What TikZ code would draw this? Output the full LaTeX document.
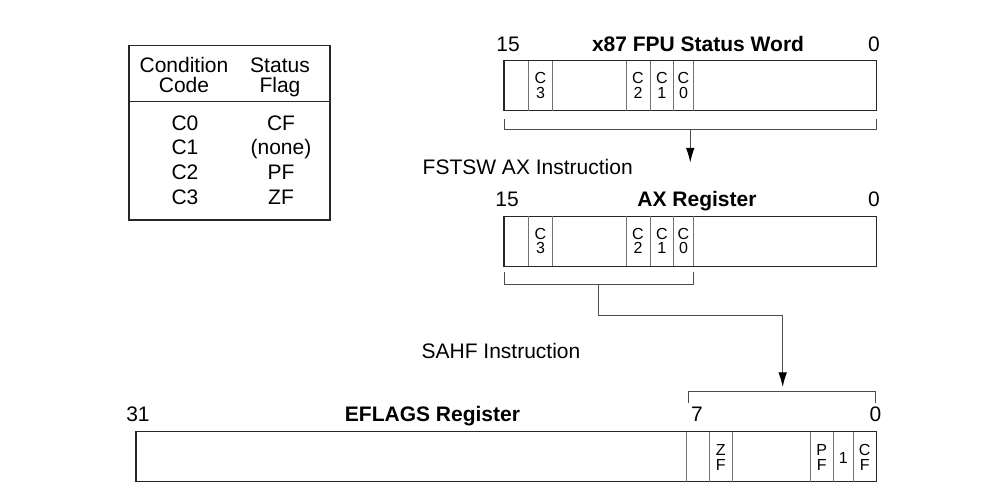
\documentclass[tikz,border=0pt]{standalone}
\usepackage{fontspec}
\setmainfont{Liberation Sans}
\usetikzlibrary{arrows.meta}
\begin{document}
\begin{tikzpicture}[x=0.75pt,y=-0.75pt,
  lbl/.style={font=\fontsize{15.75}{18}\selectfont, anchor=base, inner sep=0},
  ttl/.style={font=\fontsize{15.75}{18}\selectfont\bfseries, anchor=base, inner sep=0},
  cell/.style={font=\fontsize{12}{12}\selectfont, anchor=base, inner sep=0},
  box/.style={draw=black!85, line width=0.9pt, inner sep=0, fill=none},
  divider/.style={draw=black!55, line width=0.75pt},
  brk/.style={draw=black!70, line width=0.75pt},
  conn/.style={draw=black!70, line width=0.75pt, -{Latex[length=11pt,width=6.5pt,color=black]}},
  ]
\useasboundingbox (0,0) rectangle (1003,499);

% ---- Condition code table
\node[box, minimum width=150.75pt, minimum height=130.7pt] (tbl) at (229.5,132.85) {};
\draw[box] (129,101.7) -- (330,101.7);
\node[lbl] (h1a) at (184,72.5) {Condition};
\node[lbl] (h1b) at (184,92.5) {Code};
\node[lbl] (h2a) at (280,72.5) {Status};
\node[lbl] (h2b) at (280,92.5) {Flag};
\node[lbl] (r1a) at (185,130.8) {C0};
\node[lbl] (r1b) at (281,130.8) {CF};
\node[lbl] (r2a) at (185,155) {C1};
\node[lbl] (r2b) at (281,155) {(none)};
\node[lbl] (r3a) at (185,179.8) {C2};
\node[lbl] (r3b) at (281,179.8) {PF};
\node[lbl] (r4a) at (185,204.5) {C3};
\node[lbl] (r4b) at (281,204.5) {ZF};

% ---- x87 FPU status word
\node[lbl] (fpu15) at (508,51.5) {15};
\node[ttl] (fputitle) at (698,51.5) {x87 FPU Status Word};
\node[lbl] (fpu0) at (874,51.5) {0};
\node[box, minimum width=279.4pt, minimum height=37.5pt] (fpu) at (690.25,85.7) {};
\foreach \x in {528.5,552.5,626,650,673.7,693.3}
  \draw[divider] (\x,60.7) -- (\x,110.7);
\foreach \x/\d/\n in {540.5/3/a,638/2/b,661.8/1/c,683.5/0/d}{
  \node[cell] (fC\n) at (\x,84) {C};
  \node[cell] (fD\n) at (\x,98.3) {\d};
}
\coordinate (fpubr) at (690.25,129.3);
\coordinate (fpuarr) at (690.25,162.5);
\draw[brk] (504,119.3) -- (504,129.3) -- (876.5,129.3) -- (876.5,119.3);
\draw[conn] (fpubr) -- (fpuarr);
\node[lbl] (fstsw) at (527.7,174.5) {FSTSW AX Instruction};

% ---- AX register
\node[lbl] (ax15) at (507,206) {15};
\node[ttl] (axtitle) at (697,206) {AX Register};
\node[lbl] (ax0) at (874,206) {0};
\node[box, minimum width=279.4pt, minimum height=37.5pt] (ax) at (690.25,241.3) {};
\foreach \x in {528.5,552.5,626,650,673.7,693.3}
  \draw[divider] (\x,216.3) -- (\x,266.3);
\foreach \x/\d/\n in {540.5/3/a,638/2/b,661.8/1/c,683.5/0/d}{
  \node[cell] (aC\n) at (\x,239.6) {C};
  \node[cell] (aD\n) at (\x,253.9) {\d};
}
\coordinate (axbr) at (598.5,284);
\coordinate (axarr) at (782.7,387);
\draw[brk] (504,272.3) -- (504,284) -- (693.3,284) -- (693.3,272.3);
\draw[conn] (axbr) |- (782.7,315) -- (axarr);
\node[lbl] (sahf) at (501,358.5) {SAHF Instruction};

% ---- EFLAGS register
\draw[brk] (688.3,403) -- (688.3,391.7) -- (875.5,391.7) -- (875.5,403);
\node[lbl] (ef31) at (138,421.5) {31};
\node[ttl] (eftitle) at (432.5,421.5) {EFLAGS Register};
\node[lbl] (ef7) at (697,421.5) {7};
\node[lbl] (ef0) at (875.5,421.5) {0};
\node[box, minimum width=555.4pt, minimum height=37.5pt] (efl) at (506.25,456.7) {};
\foreach \x in {686.7,709.3,732.3,810,833.3,853.3}
  \draw[divider] (\x,431.7) -- (\x,481.7);
\foreach \x/\a/\n in {720.8/Z/a,821.7/P/b,864.7/C/c}{
  \node[cell] (eT\n) at (\x,455) {\a};
  \node[cell] (eF\n) at (\x,470.3) {F};
}
\node[cell] (e1) at (843.3,463.5) {1};
\end{tikzpicture}
\end{document}
